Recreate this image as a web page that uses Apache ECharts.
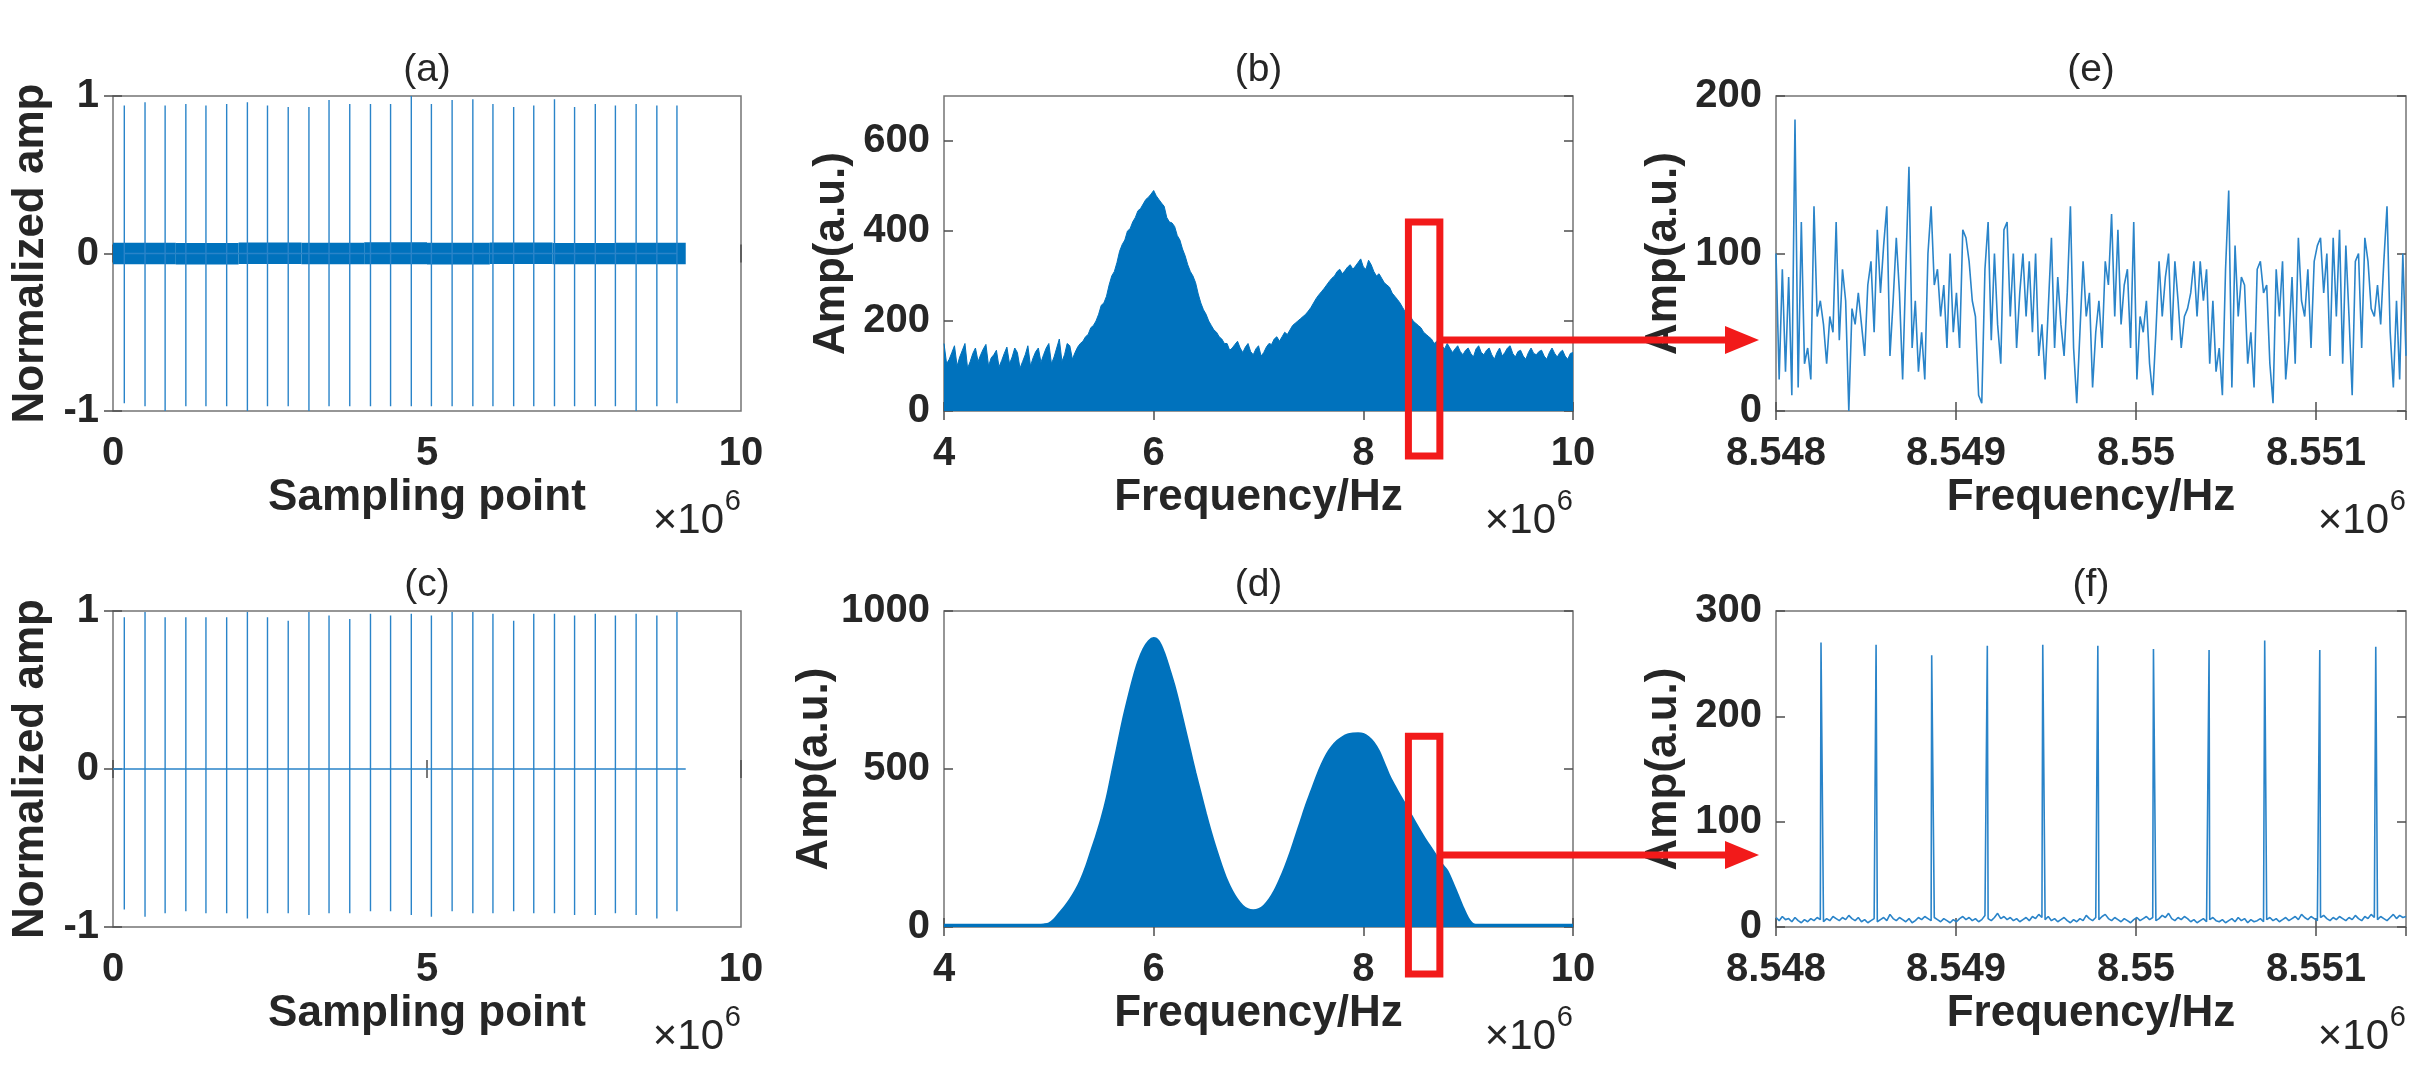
<!DOCTYPE html>
<html><head><meta charset="utf-8">
<script src="https://cdn.jsdelivr.net/npm/echarts@6.0.0/dist/echarts.min.js"></script>
<style>html,body{margin:0;padding:0;background:#fff}#c{width:2430px;height:1069px}</style>
</head><body><div id="c"></div>
<script>
// ---------------- DATA ----------------
// (a)/(c) spike positions (sampling point) and extremes
const spikeX = [0.18,0.51,0.83,1.16,1.48,1.81,2.14,2.46,2.79,3.12,3.44,3.77,4.10,4.42,4.75,5.07,5.40,5.73,6.05,6.38,6.70,7.03,7.35,7.68,8.00,8.33,8.66,8.98].map(v => v * 1e6);
const aTop = [0.94,0.96,0.94,0.95,0.94,0.95,0.96,0.94,0.93,0.93,0.975,0.95,0.95,0.95,1.0,0.95,0.975,0.98,0.95,0.93,0.94,0.98,0.93,0.95,0.94,0.95,0.94,0.94];
const aBot = [-0.95,-0.97,-1.0,-0.97,-0.97,-0.97,-1.0,-0.97,-0.97,-1.0,-0.97,-0.97,-0.97,-0.97,-0.97,-0.97,-0.97,-0.97,-0.97,-0.97,-0.97,-0.97,-0.97,-0.97,-0.97,-1.0,-0.97,-0.95];
// (a) noise band: segment edges and envelope
const aBandEdges = [0, 1.0e6, 2.0e6, 3.0e6, 4.0e6, 5.0e6, 6.0e6, 7.0e6, 8.0e6, 9.12e6];
const aBandHigh = [0.068, 0.066, 0.070, 0.068, 0.071, 0.068, 0.070, 0.067, 0.069];
const aBandLow  = [-0.068, -0.070, -0.066, -0.069, -0.068, -0.070, -0.067, -0.069, -0.068];
const cTop = [0.961,0.993,0.961,0.961,0.961,0.961,0.993,0.961,0.939,0.993,0.972,0.950,0.983,0.972,0.983,0.972,0.993,0.993,0.983,0.939,0.983,0.983,0.972,0.983,0.972,0.983,0.972,0.993];
const cBot = [-0.89,-0.935,-0.913,-0.90,-0.913,-0.913,-0.946,-0.913,-0.913,-0.924,-0.913,-0.913,-0.90,-0.90,-0.924,-0.935,-0.90,-0.913,-0.913,-0.90,-0.913,-0.913,-0.924,-0.924,-0.913,-0.924,-0.946,-0.90];
const signalEnd = 9.12e6;

// (b)/(d) spectra on a 0.05 MHz grid from 4 to 10 MHz
const specStart = 4.0e6, specStep = 0.05e6;
const bAmp = [
150,115,145,120,150,110,140,125,148,118,
135,112,142,120,130,110,145,118,140,125,
150,120,160,125,145,130,150,165,185,200,
235,255,300,330,370,400,420,445,460,475,
490,470,455,420,410,380,345,310,285,240,
215,190,175,160,150,140,155,130,150,125,
145,130,150,160,155,175,180,195,205,215,
230,250,265,280,295,310,305,320,315,330,
320,335,310,305,285,275,255,240,220,210,
195,185,170,160,155,145,150,130,145,125,
140,120,145,125,140,115,140,130,145,120,
135,115,140,125,135,115,140,120,135,115,
130];
// (b) readings half-way between the grid points above (4.025 ... 9.975 MHz)
const bAmpMid = [
105,130,100,135,95,128,110,138,100,125,
98,128,105,140,95,125,100,132,108,140,
105,140,110,150,115,142,155,170,190,215,
240,280,310,355,380,405,430,450,470,482,
478,462,430,418,390,360,325,300,260,225,
200,180,165,150,135,148,140,142,132,138,
122,142,148,165,165,170,190,200,210,222,
240,258,272,288,300,315,312,325,322,338,
315,325,300,295,280,262,248,230,212,200,
190,175,165,150,150,138,140,138,132,135,
128,138,130,135,125,130,122,140,128,132,
122,130,128,132,122,130,128,130,122,128];
const dAmp = [
8,8,8,8,8,8,8,8,8,8,
8,8,8,8,8,8,8,8,8,9,
12,25,45,65,88,115,148,190,240,290,
345,410,490,570,650,720,785,840,880,905,
915,905,870,820,765,700,630,560,490,425,
360,300,245,195,150,115,88,68,57,54,
57,68,88,115,150,190,235,285,335,385,
430,475,515,548,572,590,602,610,613,614,
612,602,585,558,520,480,448,418,390,360,
330,302,275,250,225,200,180,145,105,65,
30,10,8,8,8,8,8,8,8,8,
8,8,8,8,8,8,8,8,8,8,
8];

// (e)/(f) zoomed spectra from 8.548 to 8.5515 MHz
const zoomStart = 8548000, zoomSpan = 3500;
const eAmp = [
100,20,90,25,85,10,185,15,120,30,40,20,130,60,70,55,30,60,50,120,
45,90,70,0,65,55,75,55,35,80,95,50,115,75,105,130,35,70,110,75,
20,90,155,40,70,25,50,20,100,130,80,90,60,80,40,100,50,75,40,115,
110,95,70,60,10,5,90,120,45,100,55,30,115,120,60,100,40,75,100,60,
95,50,100,35,55,20,65,110,40,85,55,35,75,130,40,5,50,95,60,75,
15,50,70,40,95,80,125,60,115,55,80,90,40,120,20,60,50,70,30,10,
50,95,60,85,100,45,95,70,40,60,65,75,95,60,95,70,90,30,70,25,
40,10,90,140,15,105,60,85,80,30,50,15,90,95,75,80,30,5,90,60,
95,20,45,85,30,110,70,60,90,40,95,105,110,75,100,35,110,60,115,30,
105,60,10,95,100,40,110,95,65,60,80,55,95,130,50,15,70,20,100,35];
const fBase = [
9,6,10,7,8,5,9,6,4,7,5,8,6,9,7,5,8,6,10,8,
6,9,7,11,8,6,9,5,7,4,6,8,5,7,9,6,12,8,6,9,
7,5,8,4,6,9,7,10,8,6,9,7,5,8,6,4,7,5,8,10,
7,9,6,8,5,7,11,8,6,9,13,8,10,7,9,6,8,5,7,9,
6,10,8,12,9,7,10,6,8,5,7,9,6,4,7,5,8,6,11,8,
6,9,7,10,12,8,6,9,7,5,8,6,4,7,9,6,8,10,7,9,
6,8,11,9,13,8,6,9,7,10,8,5,7,4,6,8,5,7,9,6,
5,7,4,6,8,5,9,6,8,4,7,5,6,8,5,7,9,6,8,5,
7,9,6,8,10,7,12,9,7,10,8,6,9,11,8,6,9,7,10,8,
6,9,7,11,8,6,10,8,12,9,7,10,8,6,9,12,8,11,9,10];
const fPeakOffset = [250,556,865,1174,1482,1788,2097,2406,2715,3021,3332];
const fPeakAmp = [270,268,258,267,268,267,264,263,272,263,266];

// labels
const panelTitles = ['(a)','(b)','(e)','(c)','(d)','(f)'];
const xNames = ['Sampling point','Frequency/Hz','Frequency/Hz','Sampling point','Frequency/Hz','Frequency/Hz'];
const yNames = ['Normalized amp','Amp(a.u.)','Amp(a.u.)','Normalized amp','Amp(a.u.)','Amp(a.u.)'];
const xTicks = [
  {min:0, max:10e6, interval:5e6}, {min:4e6, max:10e6, interval:2e6}, {min:8548000, max:8551500, interval:1000},
  {min:0, max:10e6, interval:5e6}, {min:4e6, max:10e6, interval:2e6}, {min:8548000, max:8551500, interval:1000}];
const yTicks = [
  {min:-1, max:1, interval:1}, {min:0, max:700, interval:200}, {min:0, max:200, interval:100},
  {min:-1, max:1, interval:1}, {min:0, max:1000, interval:500}, {min:0, max:300, interval:100}];
const exponentLabel = ['×10', '6'];

// ---------------- BUILD ----------------
const GRIDS = [
  {left:113, top:96, width:628, height:315},
  {left:944, top:96, width:629, height:315},
  {left:1776, top:96, width:630, height:315},
  {left:113, top:611, width:628, height:316},
  {left:944, top:611, width:629, height:316},
  {left:1776, top:611, width:630, height:316}];
const FF = "'Liberation Sans', Arial, Helvetica, sans-serif";
const TXT = '#262626', AX = '#4d4d4d', BLUE = '#0072BD', LBLUE = '#2a84c9', RED = '#f21a1a';
const yNameGap = [60, 90, 90, 60, 90, 90];
const xShowMax = [true, true, false, true, true, false];
const yShowMax = [true, false, true, true, true, true];

function spikeLine(top, bot, withBase) {
  const pts = [];
  if (withBase) pts.push([0, 0]);
  spikeX.forEach((x, i) => { pts.push([x, 0], [x, top[i]], [x, bot[i]], [x, 0]); });
  if (withBase) pts.push([signalEnd, 0]);
  return pts;
}
const aBand = aBandHigh.map((h, i) => [aBandEdges[i], aBandEdges[i + 1], aBandLow[i], h]);
const bData = [];
bAmp.forEach((v, i) => {
  bData.push([specStart + i * specStep, v]);
  if (i < bAmpMid.length) bData.push([specStart + (i + 0.5) * specStep, bAmpMid[i]]);
});
const dData = dAmp.map((v, i) => [specStart + i * specStep, v]);
const eData = eAmp.map((v, i) => [zoomStart + i * zoomSpan / (eAmp.length - 1), v]);
const fData = fBase.map((v, i) => [zoomStart + i * zoomSpan / (fBase.length - 1), v])
  .concat(fPeakOffset.map((o, k) => [zoomStart + o, fPeakAmp[k]]))
  .sort((p, q) => p[0] - q[0]);

const fmtX = v => String(+(v / 1e6).toFixed(4));
const fmtY = v => String(v);
const xAxes = [], yAxes = [];
GRIDS.forEach((g, i) => {
  const xs = xTicks[i], ys = yTicks[i];
  xAxes.push({
    type:'value', gridIndex:i, position:'bottom', min:xs.min, max:xs.max, interval:xs.interval,
    axisLine:{show:false}, splitLine:{show:false},
    axisTick:{inside:true, length:9, lineStyle:{color:AX, width:1.5}},
    axisLabel:{margin:23, color:TXT, fontSize:40, fontWeight:'bold', fontFamily:FF, formatter:fmtX, showMaxLabel:xShowMax[i], showMinLabel:true},
    name:xNames[i], nameLocation:'middle', nameGap:65,
    nameTextStyle:{color:TXT, fontSize:44, fontWeight:'bold', fontFamily:FF}
  });
  yAxes.push({
    type:'value', gridIndex:i, position:'left', min:ys.min, max:ys.max, interval:ys.interval,
    axisLine:{show:false}, splitLine:{show:false},
    axisTick:{inside:true, length:9, lineStyle:{color:AX, width:1.5}},
    axisLabel:{margin:14, color:TXT, fontSize:40, fontWeight:'bold', fontFamily:FF, formatter:fmtY, showMaxLabel:yShowMax[i], showMinLabel:true},
    name:yNames[i], nameLocation:'middle', nameGap:yNameGap[i],
    nameTextStyle:{color:TXT, fontSize:44, fontWeight:'bold', fontFamily:FF}
  });
});
GRIDS.forEach((g, i) => {
  const xs = xTicks[i], ys = yTicks[i];
  xAxes.push({type:'value', gridIndex:i, position:'top', min:xs.min, max:xs.max, interval:xs.interval,
    axisLine:{show:false}, splitLine:{show:false}, axisLabel:{show:false},
    axisTick:{inside:true, length:9, lineStyle:{color:AX, width:1.5}}});
  yAxes.push({type:'value', gridIndex:i, position:'right', min:ys.min, max:ys.max, interval:ys.interval,
    axisLine:{show:false}, splitLine:{show:false}, axisLabel:{show:false},
    axisTick:{inside:true, length:9, lineStyle:{color:AX, width:1.5}}});
});

const lineBase = {type:'line', showSymbol:false, symbol:'none', animation:false, silent:true};
const series = [
  {type:'custom', xAxisIndex:0, yAxisIndex:0, data:aBand, animation:false, silent:true,
   encode:{x:[0,1], y:[2,3]},
   renderItem:(params, api) => {
     const p = api.coord([api.value(0), api.value(3)]);
     const q = api.coord([api.value(1), api.value(2)]);
     return {type:'rect', shape:{x:p[0], y:p[1], width:q[0]-p[0], height:q[1]-p[1]}, style:{fill:BLUE}};
   }},
  Object.assign({}, lineBase, {xAxisIndex:0, yAxisIndex:0, data:spikeLine(aTop, aBot, false), lineStyle:{color:LBLUE, width:1.4}}),
  Object.assign({}, lineBase, {xAxisIndex:1, yAxisIndex:1, data:bData, lineStyle:{color:BLUE, width:1}, areaStyle:{color:BLUE, opacity:1}}),
  Object.assign({}, lineBase, {xAxisIndex:2, yAxisIndex:2, data:eData, lineStyle:{color:LBLUE, width:1.6}}),
  Object.assign({}, lineBase, {xAxisIndex:3, yAxisIndex:3, data:spikeLine(cTop, cBot, true), lineStyle:{color:LBLUE, width:1.4}}),
  Object.assign({}, lineBase, {xAxisIndex:4, yAxisIndex:4, data:dData, smooth:0.3, lineStyle:{color:BLUE, width:1.5}, areaStyle:{color:BLUE, opacity:1}}),
  Object.assign({}, lineBase, {xAxisIndex:5, yAxisIndex:5, data:fData, lineStyle:{color:LBLUE, width:1.6}})
];

const chart = echarts.init(document.getElementById('c'), null, {renderer:'canvas'});
chart.setOption({
  backgroundColor:'#ffffff',
  animation:false,
  grid: GRIDS.map(g => Object.assign({show:true, borderColor:'#747474', borderWidth:1.5, backgroundColor:'transparent', containLabel:false}, g)),
  xAxis: xAxes, yAxis: yAxes, series: series
});

// ---------- annotations (titles, exponent, red zoom boxes) ----------
const graphics = [];
GRIDS.forEach((g, i) => {
  const cx = g.left + g.width / 2;
  graphics.push({type:'text', x:cx, y:g.top - 26, z:100,
    style:{text:panelTitles[i], fill:TXT, font:'normal 39px ' + FF, textAlign:'center', textVerticalAlign:'middle'}});
  const right = g.left + g.width;
  const base = g.top + g.height;
  graphics.push({type:'text', x:right - 17, y:base + 110, z:100,
    style:{text:exponentLabel[0], fill:TXT, font:'normal 42px ' + FF, textAlign:'right', textVerticalAlign:'middle'}});
  graphics.push({type:'text', x:right, y:base + 91, z:100,
    style:{text:exponentLabel[1], fill:TXT, font:'normal 29px ' + FF, textAlign:'right', textVerticalAlign:'middle'}});
});
const zoomBoxes = [
  {series:2, x0:8.43e6, x1:8.73e6, yTop:420, yBot:-100, arrowY:158, target:2},
  {series:5, x0:8.43e6, x1:8.73e6, yTop:604, yBot:-149, arrowY:228, target:5}];
zoomBoxes.forEach(b => {
  const p = chart.convertToPixel({seriesIndex:b.series}, [b.x0, b.yTop]);
  const q = chart.convertToPixel({seriesIndex:b.series}, [b.x1, b.yBot]);
  const ay = chart.convertToPixel({seriesIndex:b.series}, [b.x1, b.arrowY])[1];
  const tip = GRIDS[b.target].left - 17;
  graphics.push({type:'rect', z:200, shape:{x:p[0], y:p[1], width:q[0]-p[0], height:q[1]-p[1]},
    style:{fill:'none', stroke:RED, lineWidth:7}});
  graphics.push({type:'line', z:200, shape:{x1:q[0] + 3, y1:ay, x2:tip - 28, y2:ay},
    style:{stroke:RED, lineWidth:7}});
  graphics.push({type:'polygon', z:200, shape:{points:[[tip, ay], [tip - 34, ay - 14], [tip - 34, ay + 14]]},
    style:{fill:RED}});
});
chart.setOption({graphic: graphics});
</script></body></html>
